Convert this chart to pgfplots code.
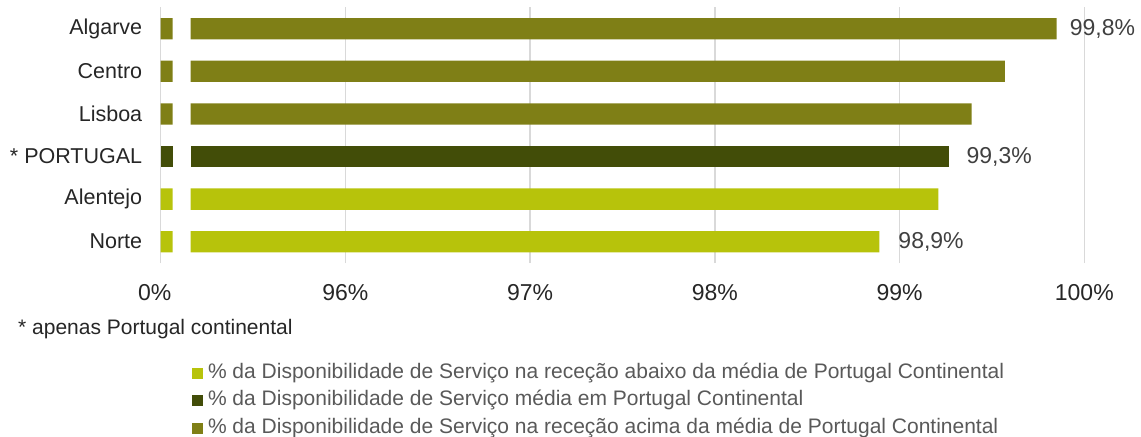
\documentclass[border=0pt]{standalone}
\usepackage{pgfplots}
\usepackage{pgfplotstable}
\pgfplotsset{compat=1.18}
\usepackage{fontspec}
\setmainfont{Liberation Sans}
\definecolor{cL}{HTML}{B7C30B}
\definecolor{cD}{HTML}{424D08}
\definecolor{cO}{HTML}{7F7F16}
\definecolor{gridc}{HTML}{D9D9D9}
\definecolor{txt}{HTML}{262626}
\definecolor{lbl}{HTML}{404040}
\definecolor{leg}{HTML}{595959}

% y: 0 Norte, 1 Alentejo, 2 PORTUGAL, 3 Lisboa, 4 Centro, 5 Algarve
\pgfplotstableread{
y val
0 98.89
1 99.21
2 99.27
3 99.39
4 99.57
5 99.85
}\datatable

\begin{document}
\begin{tikzpicture}
\path[use as bounding box] (-160.7bp,-174bp) rectangle (980.3bp,263bp);
\begin{axis}[
  scale only axis, width=923.6bp, height=255.6bp,
  xmin=95, xmax=100, ymin=-0.5, ymax=5.5,
  xbar stacked, bar width=21.3bp,
  axis line style={draw=none},
  major tick length=0pt,
  xtick={95,96,97,98,99,100},
  xticklabels={{\makebox[0pt][c]{\hspace*{-12bp}0\%}},96\%,97\%,98\%,99\%,100\%},
  ytick={0,1,2,3,4,5},
  yticklabels={Norte,Alentejo,{* PORTUGAL},Lisboa,Centro,Algarve},
  xmajorgrids, grid style={draw=gridc, line width=1.3bp},
  xticklabel style={font=\fontsize{23bp}{27bp}\selectfont, text=txt, yshift=-18bp},
  yticklabel style={font=\fontsize{21.5bp}{25bp}\selectfont, text=txt, xshift=-15bp},
  clip=false,
  legend cell align=left,
  legend style={draw=none, fill=none, inner sep=0pt, outer sep=0pt,
    at={(axis description cs:0.0339,-0.3915)}, anchor=north west,
    font=\fontsize{21bp}{24bp}\selectfont, text=leg,
    row sep=7.5bp,
    nodes={inner sep=0pt, text height=15bp, text depth=5bp},
    /tikz/every even column/.append style={column sep=0pt},
    /tikz/every odd column/.append style={column sep=5bp}},
]
% invisible base
\addplot[forget plot, draw=none, fill=none] table[x expr={95}, y=y] {\datatable};
% stubs
\addplot[forget plot, draw=none, fill=cL] table[x expr={\coordindex<2 ? 0.065 : 0}, y=y] {\datatable};
\addplot[forget plot, draw=none, fill=cD] table[x expr={\coordindex==2 ? 0.065 : 0}, y=y] {\datatable};
\addplot[forget plot, draw=none, fill=cO] table[x expr={\coordindex>2 ? 0.065 : 0}, y=y] {\datatable};
% invisible gap
\addplot[forget plot, draw=none, fill=none] table[x expr={0.097}, y=y] {\datatable};
% main bars
\addplot[draw=none, fill=cL, legend image code/.code={\fill[cL] (0bp,-5.5bp) rectangle (11bp,5.5bp);}]
  table[x expr={\coordindex<2 ? \thisrow{val}-95.162 : 0}, y=y] {\datatable};
\addlegendentry{\% da Disponibilidade de Serviço na receção abaixo da média de Portugal Continental}
\addplot[draw=none, fill=cD, legend image code/.code={\fill[cD] (0bp,-5.5bp) rectangle (11bp,5.5bp);}]
  table[x expr={\coordindex==2 ? \thisrow{val}-95.162 : 0}, y=y] {\datatable};
\addlegendentry{\% da Disponibilidade de Serviço média em Portugal Continental}
\addplot[draw=none, fill=cO, legend image code/.code={\fill[cO] (0bp,-5.5bp) rectangle (11bp,5.5bp);}]
  table[x expr={\coordindex>2 ? \thisrow{val}-95.162 : 0}, y=y] {\datatable};
\addlegendentry{\% da Disponibilidade de Serviço na receção acima da média de Portugal Continental}

\node[anchor=west, inner sep=0pt, text=lbl, font=\fontsize{23bp}{27bp}\selectfont] at (axis cs:99.85,5) [xshift=13bp] {99,8\%};
\node[anchor=west, inner sep=0pt, text=lbl, font=\fontsize{23bp}{27bp}\selectfont] at (axis cs:99.27,2) [xshift=17bp] {99,3\%};
\node[anchor=west, inner sep=0pt, text=lbl, font=\fontsize{23bp}{27bp}\selectfont] at (axis cs:98.89,0) [xshift=19bp] {98,9\%};
\end{axis}
\node[anchor=west, inner sep=0pt, text=txt, font=\fontsize{21bp}{25bp}\selectfont] at (-142.7bp,-66bp) {* apenas Portugal continental};
\end{tikzpicture}
\end{document}
